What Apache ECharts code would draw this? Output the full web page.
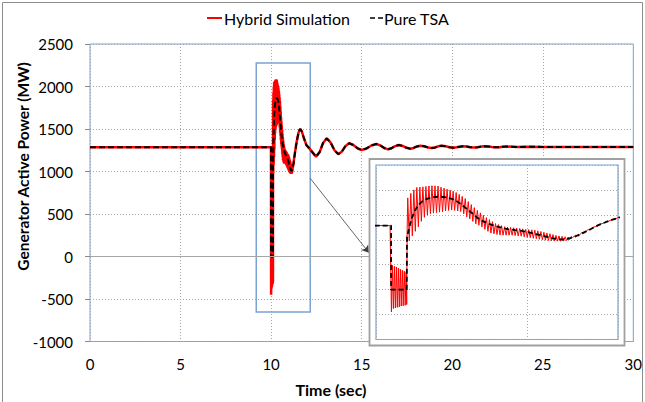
<!DOCTYPE html>
<html><head><meta charset="utf-8">
<script src="https://cdn.jsdelivr.net/npm/echarts/dist/echarts.min.js"></script>
<style>html,body{margin:0;padding:0;background:#fff}#c{width:645px;height:402px}</style>
</head><body><div id="c"></div>
<script>
// ---- data ----
const seriesNames = ['Hybrid Simulation', 'Pure TSA'];
const yTicks = [-1000, -500, 0, 500, 1000, 1500, 2000, 2500];
const xTicks = [0, 5, 10, 15, 20, 25, 30];
const insetRange = [9.9, 11.5];

// pre-fault steady state
const preT = [0];
const preV = [1285];

// Pure TSA during fault and first swing
const tsaT = [10.0, 10.0, 10.103, 10.105, 10.12, 10.136, 10.16, 10.18, 10.21, 10.245, 10.28, 10.31, 10.345, 10.378, 10.41, 10.44, 10.475, 10.51, 10.545, 10.576, 10.61, 10.64, 10.675, 10.708, 10.74, 10.77, 10.82, 10.863, 10.93, 11.017, 11.07, 11.128, 11.17, 11.22, 11.26, 11.32, 11.37, 11.44, 11.503];
const tsaV = [1285, 0, 0, 1050, 1250, 1430, 1600, 1696, 1780, 1830, 1855, 1863, 1858, 1843, 1810, 1763, 1680, 1595, 1510, 1428, 1370, 1327, 1290, 1260, 1235, 1213, 1195, 1180, 1135, 1070, 1030, 1005, 1020, 1070, 1126, 1215, 1294, 1380, 1441];

// Hybrid simulation during fault and first swing (high-frequency oscillation)
const hybT = [9.993, 10.002, 10.009, 10.015, 10.022, 10.028, 10.035, 10.041, 10.048, 10.054, 10.061, 10.067, 10.074, 10.080, 10.087, 10.093, 10.099, 10.103, 10.106,
  10.11, 10.12, 10.13, 10.14, 10.15, 10.16, 10.17, 10.18, 10.19, 10.20, 10.21, 10.22, 10.23, 10.24, 10.25, 10.26, 10.27, 10.28, 10.29, 10.30,
  10.31, 10.32, 10.33, 10.34, 10.35, 10.36, 10.37, 10.38, 10.39, 10.40, 10.41, 10.42, 10.43, 10.44, 10.45, 10.46, 10.47, 10.48, 10.49, 10.50,
  10.51, 10.52, 10.53, 10.54, 10.55, 10.56, 10.57, 10.58, 10.59, 10.60, 10.61, 10.62, 10.63, 10.64, 10.65, 10.66, 10.67, 10.68, 10.69, 10.70,
  10.71, 10.72, 10.73, 10.74, 10.75, 10.76, 10.77, 10.78, 10.79, 10.80, 10.81, 10.82, 10.83, 10.84, 10.85, 10.86, 10.87, 10.88, 10.89, 10.90,
  10.91, 10.92, 10.93, 10.94, 10.95, 10.96, 10.97, 10.98, 10.99, 11.00, 11.01, 11.02, 11.03, 11.04, 11.05, 11.06, 11.07, 11.08, 11.09, 11.10,
  11.11, 11.12, 11.13, 11.14, 11.15, 11.16, 11.17, 11.18, 11.19, 11.20,
  11.22, 11.24, 11.26, 11.28, 11.30, 11.32, 11.34, 11.36, 11.38, 11.40, 11.42, 11.44, 11.46, 11.48, 11.50];
const hybV = [1285, -449, 489, -380, 470, -368, 455, -355, 430, -348, 410, -330, 390, -325, 370, -315, 350, -300, 1226,
  1840, 980, 1930, 1080, 2000, 1170, 2050, 1260, 2056, 1370, 2062, 1450, 2070, 1495, 2078, 1522, 2084, 1535, 2082, 1545,
  2078, 1555, 2055, 1566, 2036, 1578, 2015, 1588, 1995, 1597, 1975, 1590, 1948, 1578, 1910, 1566, 1870, 1520, 1828, 1460,
  1765, 1420, 1705, 1370, 1645, 1320, 1590, 1290, 1540, 1258, 1490, 1210, 1445, 1170, 1405, 1135, 1365, 1118, 1326, 1105,
  1305, 1095, 1283, 1092, 1262, 1092, 1255, 1092, 1248, 1091, 1242, 1085, 1236, 1078, 1228, 1072, 1219, 1060, 1211, 1050,
  1205, 1042, 1199, 1030, 1193, 1020, 1180, 1010, 1166, 1000, 1151, 992, 1137, 986, 1122, 980, 1105, 976, 1088, 972,
  1078, 972, 1068, 974, 1060, 985, 1055, 1010, 1065, 1045,
  1090, 1080, 1140, 1140, 1200, 1205, 1255, 1270, 1315, 1328, 1362, 1375, 1408, 1418, 1445];

// damped tail (both simulations coincide)
const tailT = [11.56, 11.61, 11.7, 11.8, 11.95, 12.1, 12.3, 12.48, 12.68, 12.87, 13.07, 13.28, 13.50, 13.71, 13.91, 14.11, 14.31, 14.54, 14.77, 15.0, 15.27, 15.54, 15.81, 16.02, 16.24, 16.45, 16.65, 16.85, 17.05, 17.26, 17.48, 17.69, 17.87, 18.06, 18.24, 18.45, 18.67, 18.88, 19.06, 19.24, 19.42, 19.64, 19.85, 20.07, 20.25, 20.42, 20.6, 20.8, 21.0, 21.2, 21.4, 21.6, 21.8, 22.0, 22.2, 22.4, 22.6, 22.8, 23.0, 23.6, 24.2, 25.0, 30];
const tailV = [1485, 1500, 1470, 1400, 1310, 1275, 1222, 1175, 1228, 1336, 1390, 1343, 1250, 1204, 1236, 1300, 1332, 1312, 1273, 1253, 1271, 1306, 1324, 1308, 1277, 1261, 1274, 1299, 1312, 1301, 1279, 1268, 1277, 1295, 1304, 1297, 1283, 1276, 1283, 1297, 1304, 1298, 1286, 1280, 1286, 1292, 1298, 1294, 1286, 1282, 1285, 1293, 1296, 1293, 1287, 1284, 1286, 1292, 1294, 1287, 1292, 1289, 1289];

// annotation: zoom box and arrow (data coordinates of main chart)
const zoomBox = [[9.18, -653], [12.16, 2276]];
const arrowFrom = [12.16, 920];
const arrowTo = [15.4, 45];

// ---- build ----
const zip = (t, v) => t.map((x, i) => [x, v[i]]);
const tsaData = zip(preT, preV).concat(zip(tsaT, tsaV), zip(tailT, tailV));
const hybData = zip(preT, preV).concat(zip(hybT, hybV), zip(tailT, tailV));

const BLUE = '#7BA3D3';
const GRID = '#A6A6A6';
const FONT = 'Lato';
const chart = echarts.init(document.getElementById('c'), null, {renderer: 'svg'});

const splitStyle = {show: true, lineStyle: {color: GRID, type: [1, 2], width: 1}};
const plain = v => String(v);

chart.setOption({
  animation: false,
  backgroundColor: '#fff',
  textStyle: {fontFamily: FONT},
  legend: {show: false, data: seriesNames},
  grid: [
    {left: 90, top: 44, width: 548, height: 297.5, show: true, borderColor: BLUE, borderWidth: 1, backgroundColor: 'transparent'},
    {left: 376, top: 165, width: 242, height: 174.5, show: true, borderColor: BLUE, borderWidth: 1.2, backgroundColor: '#fff', z: 20}
  ],
  xAxis: [
    {type: 'value', gridIndex: 0, min: xTicks[0], max: xTicks[xTicks.length - 1], interval: 5,
     axisLine: {show: false}, axisTick: {show: false},
     axisLabel: {fontSize: 15, fontFamily: FONT, color: '#000', margin: 15, formatter: plain},
     splitLine: splitStyle},
    {type: 'value', gridIndex: 1, min: insetRange[0], max: insetRange[1], interval: 1, z: 20,
     axisLine: {show: false}, axisTick: {show: false}, axisLabel: {show: false},
     splitLine: splitStyle}
  ],
  yAxis: [
    {type: 'value', gridIndex: 0, min: yTicks[0], max: yTicks[yTicks.length - 1], interval: 500,
     axisLine: {show: false}, axisTick: {show: true, length: 5, lineStyle: {color: '#8A8A8A'}},
     axisLabel: {fontSize: 15, fontFamily: FONT, color: '#000', margin: 17, formatter: plain},
     splitLine: splitStyle},
    {type: 'value', gridIndex: 1, min: yTicks[0], max: yTicks[yTicks.length - 1], interval: 500, z: 20,
     axisLine: {show: false}, axisTick: {show: false}, axisLabel: {show: false},
     splitLine: splitStyle}
  ],
  graphic: [
    {type: 'rect', shape: {x: 2.5, y: 2.5, width: 640, height: 410}, style: {fill: 'none', stroke: '#8C8C8C', lineWidth: 1}, z: 0, silent: true},
    {type: 'rect', shape: {x: 369.5, y: 159, width: 255, height: 186.5}, style: {fill: '#fff', stroke: '#A0A0A0', lineWidth: 1.8}, z: 10, silent: true},
    // legend
    {type: 'line', shape: {x1: 207, y1: 18, x2: 222, y2: 18}, style: {stroke: '#FF0000', lineWidth: 2}, z: 30, silent: true},
    {type: 'text', x: 224, y: 18, z: 30, silent: true,
     style: {text: seriesNames[0], font: '16px Lato', fill: '#000', align: 'left', verticalAlign: 'middle'}},
    {type: 'line', shape: {x1: 370, y1: 18, x2: 383, y2: 18}, style: {stroke: '#000', lineWidth: 1.5, lineDash: [5, 3]}, z: 30, silent: true},
    {type: 'text', x: 384, y: 18, z: 30, silent: true,
     style: {text: seriesNames[1], font: '16px Lato', fill: '#000', align: 'left', verticalAlign: 'middle'}},
    // axis titles
    {type: 'text', x: 23, y: 166.5, rotation: Math.PI / 2, z: 30, silent: true,
     style: {text: 'Generator Active Power (MW)', font: 'bold 15.5px Lato', fill: '#000', align: 'center', verticalAlign: 'middle'}},
    {type: 'text', x: 331, y: 389, z: 30, silent: true,
     style: {text: 'Time (sec)', font: 'bold 16px Lato', fill: '#000', align: 'center', verticalAlign: 'middle'}}
  ],
  series: [
    {name: seriesNames[0], type: 'line', xAxisIndex: 0, yAxisIndex: 0, data: hybData, symbol: 'none', showSymbol: false,
     lineStyle: {color: '#FF0000', width: 2.5}, itemStyle: {color: '#FF0000'}, z: 3,
     markLine: {silent: true, symbol: 'none', label: {show: false},
       lineStyle: {color: '#A6A6A6', type: 'solid', width: 1.2}, data: [{yAxis: 0}]},
     markArea: {silent: true, itemStyle: {color: 'rgba(0,0,0,0)', borderColor: BLUE, borderWidth: 1.5},
       data: [[{coord: zoomBox[0]}, {coord: zoomBox[1]}]]}},
    {name: seriesNames[1], type: 'line', xAxisIndex: 0, yAxisIndex: 0, data: tsaData, symbol: 'none', showSymbol: false,
     lineStyle: {color: '#000', width: 2, type: [6, 3]}, itemStyle: {color: '#000'}, z: 4,
     markLine: {silent: true, symbol: ['none', 'arrow'], symbolSize: 7, label: {show: false},
       lineStyle: {color: '#404040', type: 'solid', width: 0.8},
       data: [[{coord: arrowFrom}, {coord: arrowTo}]]}},
    {name: seriesNames[0], type: 'line', xAxisIndex: 1, yAxisIndex: 1, data: hybData, symbol: 'none', showSymbol: false,
     lineStyle: {color: '#FF0000', width: 1}, itemStyle: {color: '#FF0000'}, z: 21, clip: true},
    {name: seriesNames[1], type: 'line', xAxisIndex: 1, yAxisIndex: 1, data: tsaData, symbol: 'none', showSymbol: false,
     lineStyle: {color: '#000', width: 1.8, type: [5, 3]}, itemStyle: {color: '#000'}, z: 22, clip: true}
  ]
});
</script></body></html>
